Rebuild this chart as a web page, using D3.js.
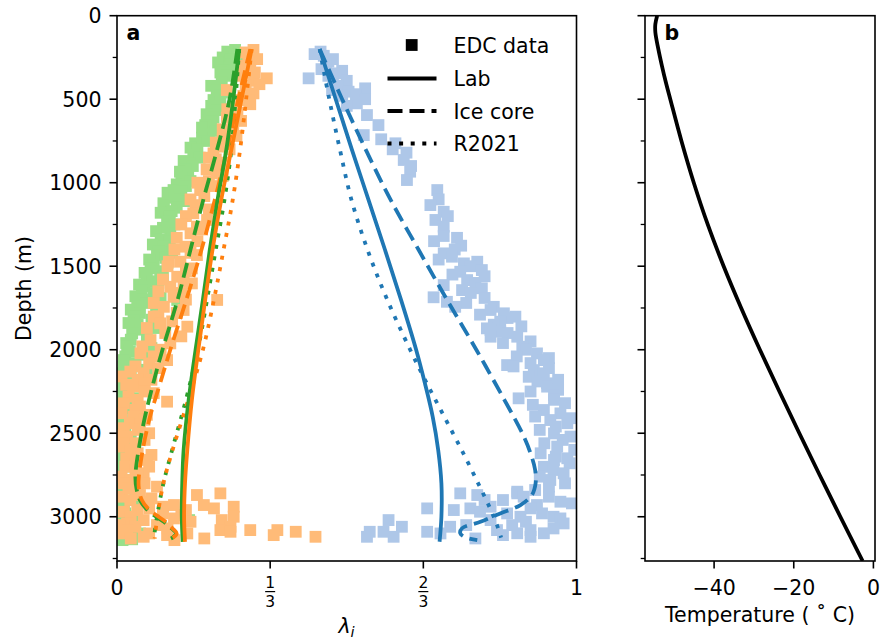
<!DOCTYPE html>
<html>
<head>
<meta charset="utf-8">
<script src="https://cdn.jsdelivr.net/npm/d3@7"></script>
<style>
  body { margin: 0; background: #fff; }
  svg { font-family: "DejaVu Sans", sans-serif; }
</style>
</head>
<body>
<svg id="fig" width="892" height="644"></svg>
<script>
// ---- EDC eigenvalue data, [depth (m), lambda] ----
var edcL1 = [[205,0.257],[215,0.240],[230,0.262],[250,0.230],[260,0.246],[280,0.220],[290,0.250],[310,0.245],[325,0.232],[340,0.225],[360,0.239],[400,0.228],[420,0.205],[445,0.217],[460,0.230],[480,0.224],[505,0.210],[520,0.225],[540,0.205],[565,0.217],[590,0.195],[610,0.210],[630,0.205],[655,0.192],[670,0.185],[690,0.214],[710,0.200],[730,0.185],[750,0.190],[764,0.170],[790,0.160],[800,0.175],[830,0.166],[850,0.180],[870,0.145],[884,0.159],[900,0.165],[920,0.150],[934,0.137],[960,0.155],[970,0.140],[990,0.160],[1010,0.130],[1020,0.150],[1044,0.123],[1050,0.140],[1060,0.110],[1090,0.125],[1100,0.135],[1110,0.150],[1123,0.101],[1134,0.102],[1150,0.130],[1170,0.119],[1180,0.095],[1200,0.115],[1234,0.109],[1250,0.125],[1270,0.100],[1290,0.085],[1303,0.116],[1340,0.095],[1350,0.115],[1370,0.078],[1383,0.102],[1410,0.090],[1420,0.120],[1433,0.087],[1450,0.105],[1460,0.070],[1480,0.110],[1490,0.080],[1513,0.073],[1530,0.094],[1540,0.060],[1560,0.100],[1563,0.065],[1590,0.078],[1600,0.090],[1610,0.048],[1620,0.060],[1643,0.054],[1660,0.080],[1680,0.040],[1690,0.095],[1700,0.058],[1702,0.131],[1720,0.065],[1740,0.085],[1743,0.044],[1760,0.030],[1780,0.050],[1800,0.040],[1820,0.075],[1822,0.036],[1840,0.025],[1850,0.045],[1870,0.085],[1880,0.051],[1902,0.033],[1920,0.065],[1940,0.030],[1960,0.020],[1982,0.022],[1990,0.075],[2010,0.028],[2030,0.055],[2040,0.018],[2062,0.015],[2080,0.040],[2100,0.014],[2120,0.065],[2141,0.011],[2150,0.030],[2180,0.010],[2200,0.050],[2220,0.008],[2240,0.025],[2260,0.007],[2290,0.040],[2321,0.007],[2350,0.020],[2380,0.006],[2400,0.035],[2440,0.006],[2470,0.018],[2500,0.005],[2540,0.030],[2560,0.006],[2600,0.018],[2620,0.005],[2680,0.006],[2700,0.025],[2740,0.007],[2780,0.020],[2800,0.007],[2830,0.030],[2850,0.010],[2880,0.007],[2900,0.040],[2920,0.010],[2950,0.005],[2960,0.015],[2980,0.018],[3000,0.040],[3010,0.012],[3020,0.157],[3040,0.020],[3060,0.008],[3070,0.030],[3100,0.050],[3100,0.010],[3120,0.018],[3135,0.033],[3140,0.012]];

var edcL2 = [[205,0.297],[220,0.280],[240,0.290],[260,0.305],[275,0.286],[300,0.275],[320,0.290],[340,0.300],[360,0.270],[375,0.326],[390,0.297],[410,0.310],[420,0.280],[445,0.239],[465,0.297],[480,0.275],[505,0.268],[505,0.286],[530,0.290],[545,0.253],[560,0.240],[580,0.262],[610,0.239],[630,0.270],[664,0.253],[680,0.230],[700,0.240],[720,0.260],[740,0.230],[760,0.215],[784,0.224],[800,0.245],[824,0.210],[850,0.200],[860,0.215],[880,0.235],[904,0.224],[920,0.195],[944,0.217],[960,0.230],[990,0.200],[1000,0.175],[1020,0.210],[1044,0.181],[1080,0.190],[1100,0.160],[1134,0.171],[1160,0.200],[1183,0.166],[1200,0.150],[1223,0.196],[1250,0.140],[1263,0.174],[1280,0.185],[1303,0.160],[1330,0.130],[1350,0.175],[1383,0.149],[1400,0.125],[1420,0.160],[1433,0.174],[1473,0.113],[1473,0.138],[1500,0.110],[1513,0.163],[1530,0.150],[1563,0.131],[1580,0.100],[1590,0.145],[1603,0.163],[1623,0.116],[1650,0.090],[1660,0.140],[1683,0.123],[1700,0.150],[1702,0.218],[1720,0.080],[1743,0.102],[1762,0.145],[1780,0.130],[1800,0.090],[1802,0.080],[1830,0.120],[1842,0.094],[1862,0.153],[1870,0.065],[1900,0.105],[1920,0.140],[1942,0.073],[1962,0.116],[1980,0.055],[2000,0.095],[2022,0.051],[2040,0.080],[2062,0.109],[2082,0.070],[2100,0.040],[2110,0.090],[2131,0.029],[2141,0.058],[2160,0.010],[2180,0.045],[2180,0.075],[2200,0.060],[2210,0.020],[2220,0.035],[2250,0.060],[2260,0.080],[2280,0.025],[2300,0.045],[2311,0.109],[2321,0.015],[2340,0.050],[2360,0.040],[2380,0.010],[2390,0.065],[2401,0.036],[2420,0.060],[2440,0.028],[2450,0.050],[2470,0.015],[2480,0.045],[2500,0.070],[2510,0.005],[2521,0.022],[2540,0.060],[2560,0.040],[2560,0.010],[2580,0.015],[2600,0.030],[2620,0.045],[2630,0.075],[2650,0.020],[2660,0.065],[2680,0.040],[2700,0.018],[2700,0.070],[2720,0.040],[2740,0.058],[2760,0.010],[2760,0.045],[2780,0.030],[2800,0.060],[2800,0.015],[2820,0.087],[2830,0.025],[2840,0.045],[2860,0.225],[2870,0.174],[2870,0.050],[2880,0.010],[2890,0.075],[2900,0.029],[2910,0.060],[2930,0.189],[2930,0.124],[2940,0.254],[2940,0.100],[2950,0.211],[2950,0.070],[2960,0.044],[2960,0.150],[2970,0.015],[2980,0.100],[2990,0.140],[3000,0.254],[3000,0.030],[3010,0.124],[3020,0.058],[3020,0.228],[3030,0.160],[3040,0.022],[3050,0.087],[3050,0.005],[3060,0.247],[3060,0.040],[3070,0.110],[3080,0.225],[3080,0.290],[3080,0.349],[3080,0.022],[3090,0.247],[3090,0.389],[3100,0.153],[3100,0.070],[3100,0.010],[3110,0.341],[3110,0.109],[3120,0.432],[3120,0.058],[3130,0.030],[3130,0.190],[3140,0.125]];

var edcL3 = [[215,0.443],[230,0.430],[240,0.450],[260,0.470],[275,0.460],[300,0.455],[320,0.445],[330,0.490],[345,0.479],[360,0.460],[375,0.417],[390,0.500],[400,0.470],[420,0.480],[435,0.540],[445,0.468],[455,0.504],[470,0.520],[480,0.490],[500,0.540],[525,0.522],[540,0.500],[595,0.544],[655,0.569],[715,0.537],[740,0.575],[764,0.606],[800,0.600],[820,0.630],[864,0.624],[900,0.640],[934,0.638],[984,0.631],[1044,0.697],[1100,0.700],[1134,0.682],[1174,0.711],[1200,0.720],[1223,0.693],[1263,0.711],[1319,0.711],[1330,0.740],[1350,0.690],[1377,0.749],[1400,0.735],[1423,0.711],[1443,0.729],[1460,0.700],[1473,0.784],[1483,0.755],[1500,0.770],[1523,0.794],[1533,0.747],[1550,0.730],[1560,0.800],[1583,0.762],[1600,0.780],[1613,0.711],[1632,0.794],[1643,0.751],[1660,0.770],[1686,0.689],[1690,0.800],[1713,0.718],[1720,0.760],[1743,0.736],[1743,0.820],[1762,0.813],[1782,0.842],[1790,0.790],[1802,0.867],[1810,0.850],[1832,0.834],[1850,0.820],[1860,0.880],[1872,0.805],[1882,0.813],[1892,0.834],[1900,0.850],[1922,0.813],[1922,0.871],[1950,0.900],[1960,0.840],[1982,0.882],[2000,0.890],[2022,0.914],[2040,0.870],[2050,0.940],[2062,0.929],[2080,0.900],[2092,0.849],[2100,0.863],[2110,0.940],[2122,0.907],[2141,0.929],[2162,0.896],[2180,0.960],[2190,0.915],[2201,0.936],[2221,0.936],[2240,0.960],[2250,0.900],[2271,0.951],[2291,0.874],[2300,0.951],[2320,0.975],[2330,0.905],[2361,0.929],[2381,0.965],[2400,0.910],[2410,0.990],[2421,0.943],[2440,0.980],[2460,0.955],[2480,0.920],[2501,0.951],[2520,0.987],[2540,0.970],[2560,0.930],[2580,0.958],[2600,0.995],[2620,0.922],[2640,0.955],[2650,0.980],[2660,0.951],[2680,0.985],[2701,0.929],[2720,0.950],[2740,0.972],[2760,0.920],[2780,0.943],[2800,0.975],[2820,0.940],[2840,0.910],[2850,0.871],[2860,0.747],[2860,0.871],[2870,0.784],[2880,0.885],[2880,0.940],[2900,0.840],[2900,0.800],[2910,0.965],[2920,0.990],[2930,0.914],[2940,0.813],[2950,0.769],[2950,0.675],[2950,0.900],[2960,0.733],[2970,0.790],[2980,0.925],[2980,0.849],[3000,0.878],[3000,0.950],[3010,0.965],[3020,0.813],[3020,0.591],[3030,0.890],[3040,0.972],[3050,0.860],[3050,0.760],[3060,0.725],[3060,0.620],[3070,0.950],[3080,0.827],[3080,0.900],[3090,0.675],[3090,0.550],[3090,0.580],[3099,0.929],[3099,0.871],[3100,0.704],[3110,0.840],[3120,0.602],[3120,0.544],[3120,0.900],[3130,0.780]];

// ---- model curves, [depth (m), lambda] ----
var labL1 = [[200,0.266],[500,0.253],[800,0.238],[1100,0.219],[1400,0.202],[1700,0.187],[2000,0.171],[2300,0.156],[2600,0.145],[2800,0.142],[3000,0.141],[3150,0.143]];
var labL2 = [[200,0.293],[500,0.271],[800,0.249],[1100,0.227],[1400,0.208],[1700,0.192],[2000,0.177],[2300,0.163],[2600,0.153],[2800,0.148],[3000,0.146],[3150,0.148]];
var labL3 = [[200,0.441],[500,0.476],[800,0.511],[1100,0.547],[1400,0.583],[1700,0.618],[2000,0.651],[2200,0.670],[2400,0.687],[2600,0.699],[2800,0.706],[3000,0.706],[3150,0.702]];

var iceL1 = [[200,0.262],[500,0.245],[800,0.218],[1100,0.188],[1400,0.160],[1700,0.132],[2000,0.099],[2200,0.079],[2400,0.061],[2600,0.047],[2760,0.040],[2840,0.043],[2900,0.050],[2950,0.063],[2990,0.080],[3030,0.102],[3070,0.119],[3100,0.128],[3123,0.122],[3140,0.109]];
var iceL2 = [[200,0.290],[500,0.264],[800,0.240],[1100,0.213],[1400,0.184],[1700,0.151],[2000,0.116],[2200,0.094],[2400,0.072],[2600,0.056],[2780,0.047],[2840,0.048],[2900,0.054],[2950,0.067],[2990,0.085],[3030,0.106],[3070,0.121],[3100,0.130],[3123,0.123],[3140,0.111]];
var iceL3 = [[200,0.441],[500,0.490],[800,0.541],[1100,0.595],[1400,0.656],[1700,0.718],[2000,0.782],[2300,0.843],[2500,0.882],[2620,0.900],[2720,0.910],[2800,0.911],[2870,0.903],[2930,0.878],[2980,0.834],[3030,0.791],[3069,0.751],[3099,0.747],[3123,0.758],[3140,0.784]];

var r21L1 = [[200,0.266],[500,0.258],[800,0.249],[1100,0.234],[1400,0.215],[1700,0.196],[2000,0.176],[2300,0.150],[2600,0.120],[2800,0.101],[3000,0.087],[3130,0.080]];
var r21L2 = [[200,0.293],[500,0.281],[800,0.268],[1100,0.252],[1400,0.232],[1700,0.211],[2000,0.187],[2300,0.155],[2600,0.121],[2800,0.101],[3000,0.088],[3130,0.082]];
var r21L3 = [[200,0.441],[500,0.462],[800,0.485],[1100,0.510],[1400,0.545],[1700,0.588],[2000,0.638],[2200,0.674],[2400,0.712],[2600,0.750],[2800,0.786],[2950,0.812],[3050,0.827],[3125,0.836]];

// ---- EDC temperature profile ----
var tempDepth = [0,50,100,200,300,400,500,750,1000,1250,1500,1750,2000,2250,2500,2750,3000,3265];
var tempC     = [-54.3,-54.75,-54.75,-54.0,-53.1,-52.1,-51.0,-48.2,-45.1,-41.6,-37.6,-33.2,-28.5,-23.6,-18.6,-13.5,-8.3,-2.7];

var yMajor = [0,500,1000,1500,2000,2500,3000];
var yMinor = [250,750,1250,1750,2250,2750,3250];
var xTicksA = [0,1/3,2/3,1];
var xTickLabelsA = ["0","1/3","2/3","1"];
var xTicksB = [-40,-20,0];
var legendLabels = ["EDC data","Lab","Ice core","R2021"];

var light = ["#98df8a","#ffbb78","#aec7e8"],
    dark  = ["#2ca02c","#ff7f0e","#1f77b4"];

var FS = 20.5, LW = 3.8;
var dashes = { lab: null, ice: "15,7", r21: "4,7.6" };

var svg = d3.select("#fig");

var plotTop = 15.7, plotBottom = 561;
var y = d3.scaleLinear().domain([0,3265]).range([plotTop,plotBottom]);
var xa = d3.scaleLinear().domain([0,1]).range([117,576.5]);
var xb = d3.scaleLinear().domain([-57.35,0.4]).range([645,875]);

svg.append("clipPath").attr("id","clipA").append("rect")
  .attr("x",117).attr("y",plotTop).attr("width",459.5).attr("height",plotBottom-plotTop);
svg.append("clipPath").attr("id","clipB").append("rect")
  .attr("x",645).attr("y",plotTop).attr("width",230).attr("height",plotBottom-plotTop);

// ---- panel a ----
var ga = svg.append("g").attr("clip-path","url(#clipA)");
var sq = 11.8;
[[edcL3,light[2]],[edcL1,light[0]],[edcL2,light[1]]].forEach(function(p){
  ga.selectAll(null).data(p[0]).enter().append("rect")
    .attr("x", function(d){ return xa(d[1]) - sq/2; })
    .attr("y", function(d){ return y(d[0]) - sq/2; })
    .attr("width", sq).attr("height", sq)
    .attr("fill", p[1]);
});

var line = d3.line()
  .x(function(d){ return xa(d[1]); })
  .y(function(d){ return y(d[0]); })
  .curve(d3.curveCatmullRom.alpha(0.5));

var models = [
  {k:"r21", s:[r21L1,r21L2,r21L3]},
  {k:"ice", s:[iceL1,iceL2,iceL3]},
  {k:"lab", s:[labL1,labL2,labL3]}
];
models.forEach(function(m){
  m.s.forEach(function(s,i){
    ga.append("path").attr("d", line(s))
      .attr("fill","none").attr("stroke",dark[i]).attr("stroke-width",LW)
      .attr("stroke-dasharray", dashes[m.k]);
  });
});

// ---- panel b ----
var gb = svg.append("g").attr("clip-path","url(#clipB)");
var tline = d3.line()
  .x(function(d,i){ return xb(tempC[i]); })
  .y(function(d){ return y(d); })
  .curve(d3.curveCatmullRom.alpha(0.5));
gb.append("path").attr("d", tline(tempDepth))
  .attr("fill","none").attr("stroke","#000").attr("stroke-width",LW);

// ---- axes ----
function frame(x0, x1){
  svg.append("rect").attr("x",x0).attr("y",plotTop).attr("width",x1-x0).attr("height",plotBottom-plotTop)
    .attr("fill","none").attr("stroke","#000").attr("stroke-width",1.6);
}
frame(117,576.5);
frame(645,875);

function yTicks(x0, labels){
  var g = svg.append("g");
  g.selectAll(null).data(yMajor).enter().append("line")
    .attr("x1",x0-7.5).attr("x2",x0).attr("y1",y).attr("y2",y)
    .attr("stroke","#000").attr("stroke-width",1.6);
  g.selectAll(null).data(yMinor.filter(function(v){ return v<3265; })).enter().append("line")
    .attr("x1",x0-4.3).attr("x2",x0).attr("y1",y).attr("y2",y)
    .attr("stroke","#000").attr("stroke-width",1.3);
  if (labels) {
    g.selectAll(null).data(yMajor).enter().append("text")
      .attr("x",x0-15.5).attr("y",function(d){ return y(d)+7.4; })
      .attr("text-anchor","end").attr("font-size",FS).text(function(d){ return d; });
  }
}
yTicks(117,true);
yTicks(645,false);

function xTicks(scale, vals){
  svg.selectAll(null).data(vals).enter().append("line")
    .attr("x1",scale).attr("x2",scale).attr("y1",plotBottom).attr("y2",plotBottom+7.5)
    .attr("stroke","#000").attr("stroke-width",1.6);
}
xTicks(xa, xTicksA);
xTicks(xb, xTicksB);

xTicksA.forEach(function(v,i){
  var lab = xTickLabelsA[i], px = xa(v);
  if (lab.indexOf("/")<0) {
    svg.append("text").attr("x",px).attr("y",594.5).attr("text-anchor","middle")
      .attr("font-size",FS).text(lab);
  } else {
    var p = lab.split("/");
    svg.append("text").attr("x",px).attr("y",588).attr("text-anchor","middle")
      .attr("font-size",15.5).text(p[0]);
    svg.append("line").attr("x1",px-5).attr("x2",px+5).attr("y1",591.6).attr("y2",591.6)
      .attr("stroke","#000").attr("stroke-width",1.2);
    svg.append("text").attr("x",px).attr("y",606.8).attr("text-anchor","middle")
      .attr("font-size",15.5).text(p[1]);
  }
});
svg.selectAll(null).data(xTicksB).enter().append("text")
  .attr("x",xb).attr("y",594.5).attr("text-anchor","middle").attr("font-size",FS)
  .text(function(d){ return d<0 ? "\u2212"+Math.abs(d) : d; });

// axis labels
svg.append("text").attr("transform","translate(31,288.5) rotate(-90)")
  .attr("text-anchor","middle").attr("font-size",FS).text("Depth (m)");
var lam = svg.append("text").attr("x",346.5).attr("y",633).attr("text-anchor","middle").attr("font-size",FS);
lam.append("tspan").attr("font-style","italic").text("\u03bb");
lam.append("tspan").attr("font-style","italic").attr("font-size",14.5).attr("dy",4).text("i");
svg.append("text").attr("x",760).attr("y",622).attr("text-anchor","middle").attr("font-size",FS)
  .text("Temperature ( \u02da C)");

// panel letters
svg.append("text").attr("x",126.5).attr("y",40).attr("font-size",FS).attr("font-weight","bold").text("a");
svg.append("text").attr("x",664.5).attr("y",40).attr("font-size",FS).attr("font-weight","bold").text("b");

// ---- legend ----
var ly = [45,78.5,111,143.5];
var leg = svg.append("g");
leg.append("rect").attr("x",411.7-sq/2).attr("y",ly[0]-sq/2).attr("width",sq).attr("height",sq).attr("fill","#000");
[null, dashes.ice, dashes.r21].forEach(function(da,i){
  leg.append("line").attr("x1",387.5).attr("x2",436.5).attr("y1",ly[i+1]).attr("y2",ly[i+1])
    .attr("stroke","#000").attr("stroke-width",LW).attr("stroke-dasharray",da);
});
leg.selectAll(null).data(legendLabels).enter().append("text")
  .attr("x",453.5).attr("y",function(d,i){ return ly[i]+7.5; })
  .attr("font-size",FS).text(function(d){ return d; });
</script>
</body>
</html>
